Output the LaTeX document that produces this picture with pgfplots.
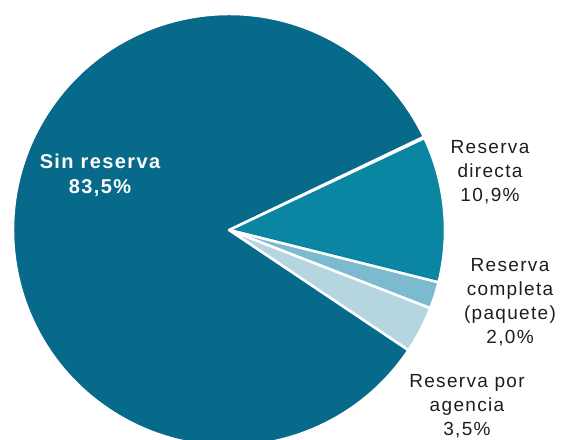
\documentclass[border=0pt]{standalone}
\usepackage{pgfplots}
\pgfplotsset{compat=1.18}
\usepackage{pgfplotstable}
\usepackage{fontspec}
\setmainfont{Liberation Sans}[LetterSpace=7]

\definecolor{sinres}{HTML}{076A8A}
\definecolor{directa}{HTML}{0A86A3}
\definecolor{completa}{HTML}{7BBACF}
\definecolor{agencia}{HTML}{B5D6E1}
\definecolor{labtxt}{HTML}{1E1E1E}

% shares in percent, clockwise from the first cut
\pgfplotstableread{
share
10.9
2.0
3.5
83.5
}\pietable

\begin{document}
\begin{tikzpicture}
\pgfmathsetmacro\aS{25.2}
\pgfplotstablegetelem{0}{share}\of\pietable
\pgfmathsetmacro\aA{\aS-3.6*\pgfplotsretval}
\pgfplotstablegetelem{1}{share}\of\pietable
\pgfmathsetmacro\aB{\aA-3.6*\pgfplotsretval}
\pgfplotstablegetelem{2}{share}\of\pietable
\pgfmathsetmacro\aC{\aB-3.6*\pgfplotsretval}
\pgfplotstablegetelem{3}{share}\of\pietable
\pgfmathsetmacro\aD{\aC-3.6*\pgfplotsretval}
\begin{axis}[
  hide axis, scale only axis,
  width=561pt, height=439pt,
  xmin=-1.06512, xmax=1.54419,
  ymin=-0.97209, ymax=1.06977,
]
\tikzset{slice/.style={draw=white, line width=2.5pt, line join=round}}
\fill[slice, fill=directa]  (axis cs:0,0) -- ++(\aS:216pt) arc[start angle=\aS, end angle=\aA, radius=216pt] -- cycle;
\fill[slice, fill=completa] (axis cs:0,0) -- ++(\aA:216pt) arc[start angle=\aA, end angle=\aB, radius=216pt] -- cycle;
\fill[slice, fill=agencia]  (axis cs:0,0) -- ++(\aB:216pt) arc[start angle=\aB, end angle=\aC, radius=216pt] -- cycle;
\fill[slice, fill=sinres]   (axis cs:0,0) -- ++(\aC:216pt) arc[start angle=\aC, end angle=\aD, radius=216pt] -- cycle;

\tikzset{lab/.style={align=center, text=labtxt, font=\fontsize{19}{24}\selectfont}}
\node[lab] at (axis cs:1.214,0.270) {Reserva\\directa\\10,9\%};
\node[lab] at (axis cs:1.307,-0.337) {Reserva\\completa\\(paquete)\\2,0\%};
\node[lab] at (axis cs:1.107,-0.819) {Reserva por\\agencia\\3,5\%};
\node[align=center, text=white, font=\fontsize{20}{25}\selectfont\bfseries] at (axis cs:-0.600,0.253) {Sin reserva\\83,5\%};
\coordinate (sw) at (rel axis cs:0,0);
\coordinate (ne) at (rel axis cs:1,1);
\end{axis}
\pgfresetboundingbox
\path (sw) rectangle (ne);
\end{tikzpicture}
\end{document}
